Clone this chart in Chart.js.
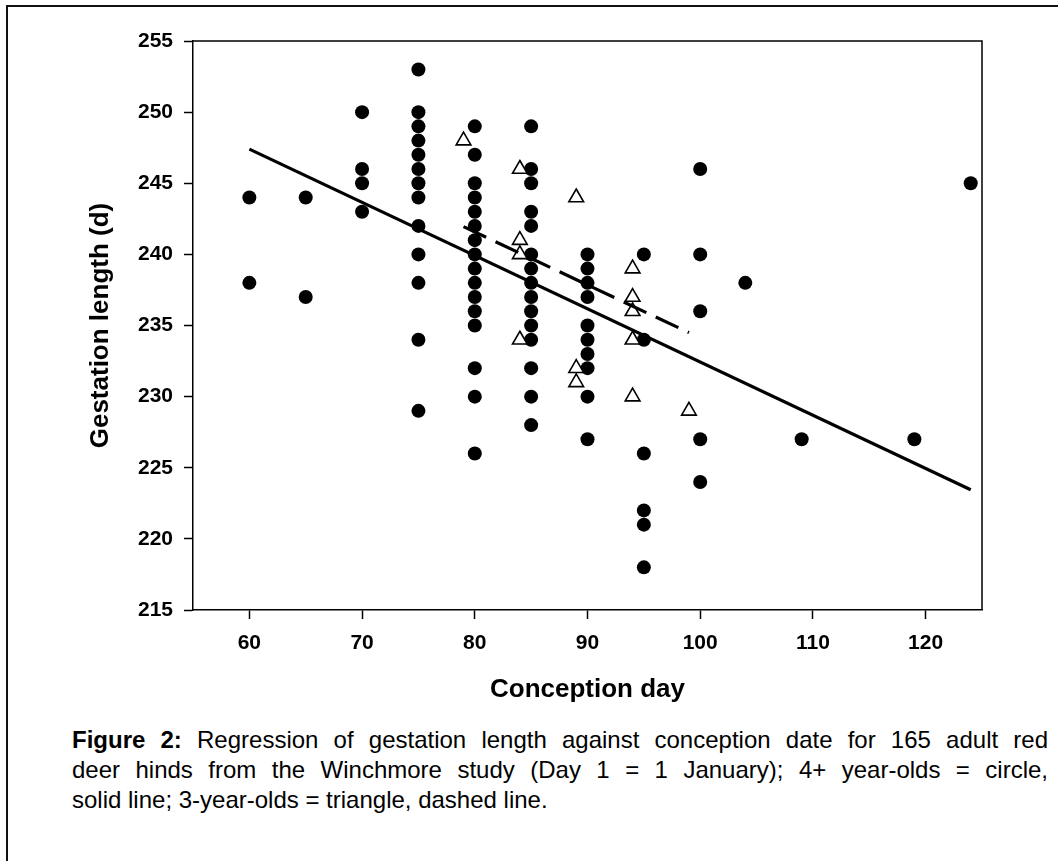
<!DOCTYPE html>
<html lang="en">
<head>
<meta charset="UTF-8">
<title>Figure 2 - Gestation length against conception day</title>
<script src="https://cdn.jsdelivr.net/npm/chart.js@4.4.0/dist/chart.umd.min.js"></script>
<style>
  html, body { margin: 0; padding: 0; background: #fff; }
  body { width: 1058px; height: 861px; position: relative; overflow: hidden;
         font-family: "Liberation Sans", Arial, sans-serif; }
  .frame { position: absolute; left: 6px; top: 5px; right: 0; bottom: 0;
           border-left: 2px solid #111; border-top: 2px solid #111; }
  #chart { position: absolute; left: 0; top: 0; }
  .caption { position: absolute; left: 72px; top: 725px; width: 976px;
             font-size: 24px; line-height: 30px; color: #000; }
  .caption .j { text-align: justify; text-align-last: justify; }
</style>
</head>
<body>
<div class="frame"></div>
<canvas id="chart" width="1058" height="720"></canvas>
<div class="caption">
  <div class="j"><b>Figure 2:</b> Regression of gestation length against conception date for 165 adult red</div>
  <div class="j">deer hinds from the Winchmore study (Day 1 = 1 January); 4+ year-olds = circle,</div>
  <div>solid line; 3-year-olds = triangle, dashed line.</div>
</div>

<script>
// 4+ year-olds (filled circles)
const adultDay = [
  60, 60,
  65, 65,
  70, 70, 70, 70,
  75, 75, 75, 75, 75, 75, 75, 75, 75, 75, 75, 75, 75,
  80, 80, 80, 80, 80, 80, 80, 80, 80, 80, 80, 80, 80, 80, 80, 80,
  85, 85, 85, 85, 85, 85, 85, 85, 85, 85, 85, 85, 85, 85, 85,
  90, 90, 90, 90, 90, 90, 90, 90, 90, 90,
  95, 95, 95, 95, 95, 95,
  100, 100, 100, 100, 100,
  104, 109, 119, 124
];
const adultGestation = [
  244, 238,
  244, 237,
  250, 246, 245, 243,
  253, 250, 249, 248, 247, 246, 245, 244, 242, 240, 238, 234, 229,
  249, 247, 245, 244, 243, 242, 241, 240, 239, 238, 237, 236, 235, 232, 230, 226,
  249, 246, 245, 243, 242, 240, 239, 238, 237, 236, 235, 234, 232, 230, 228,
  240, 239, 238, 237, 235, 234, 233, 232, 230, 227,
  240, 234, 226, 222, 221, 218,
  246, 240, 236, 227, 224,
  238, 227, 227, 245
];

// 3-year-olds (open triangles)
const youngDay = [79, 84, 84, 84, 84, 89, 89, 89, 94, 94, 94, 94, 94, 99];
const youngGestation = [248, 246, 241, 240, 234, 244, 232, 231, 239, 237, 236, 234, 230, 229];

// regression lines (end points)
const adultFitDay = [60, 124];
const adultFitGestation = [247.4, 223.45];
const youngFitDay = [79, 99];
const youngFitGestation = [241.95, 234.5];

const xTickValues = [60, 70, 80, 90, 100, 110, 120];
const yTickValues = [215, 220, 225, 230, 235, 240, 245, 250, 255];

const toPoints = (xs, ys) => xs.map((x, i) => ({ x: x, y: ys[i] }));

const FONT = "'Liberation Sans', Arial, sans-serif";

// top and right sides of the plot box
const plotFrame = {
  id: 'plotFrame',
  beforeDatasetsDraw(chart) {
    const { ctx, chartArea: a } = chart;
    ctx.save();
    ctx.strokeStyle = '#000';
    ctx.lineWidth = 1.5;
    ctx.beginPath();
    ctx.moveTo(a.left, a.top);
    ctx.lineTo(a.right, a.top);
    ctx.lineTo(a.right, a.bottom);
    ctx.stroke();
    ctx.restore();
  }
};

new Chart(document.getElementById('chart'), {
  type: 'scatter',
  data: {
    datasets: [
      {
        label: '4+ year-olds fit',
        data: toPoints(adultFitDay, adultFitGestation),
        showLine: true,
        borderColor: '#000',
        borderWidth: 3.2,
        pointRadius: 0,
        order: 0
      },
      {
        label: '3-year-olds fit',
        data: toPoints(youngFitDay, youngFitGestation),
        showLine: true,
        borderColor: '#000',
        borderWidth: 3.2,
        borderDash: [25, 10.4],
        borderCapStyle: 'butt',
        pointRadius: 0,
        order: 0
      },
      {
        label: '3-year-olds',
        data: toPoints(youngDay, youngGestation),
        pointStyle: 'triangle',
        pointRadius: 8.5,
        backgroundColor: '#fff',
        borderColor: '#000',
        borderWidth: 1.6,
        order: 1
      },
      {
        label: '4+ year-olds',
        data: toPoints(adultDay, adultGestation),
        pointStyle: 'circle',
        pointRadius: 7,
        backgroundColor: '#000',
        borderWidth: 0,
        order: 2
      }
    ]
  },
  options: {
    responsive: false,
    animation: false,
    devicePixelRatio: 1,
    layout: { padding: { left: 0, right: 76, top: 41, bottom: 10 } },
    plugins: { legend: { display: false }, tooltip: { enabled: false } },
    scales: {
      x: {
        type: 'linear',
        min: 55,
        max: 125,
        afterFit: s => { s.height = 100; },
        afterBuildTicks: s => { s.ticks = xTickValues.map(v => ({ value: v })); },
        grid: { drawOnChartArea: false, drawTicks: true, tickLength: 9, tickColor: '#000', tickWidth: 1.5 },
        border: { display: true, color: '#000', width: 1.5 },
        ticks: { padding: 12, color: '#000', maxRotation: 0, font: { family: FONT, size: 21, weight: 'bold' } },
        title: {
          display: true,
          text: 'Conception day',
          color: '#000',
          padding: { top: 0, bottom: 5 },
          font: { family: FONT, size: 26, weight: 'bold' }
        }
      },
      y: {
        type: 'linear',
        min: 215,
        max: 255,
        afterFit: s => { s.width = 193; },
        afterBuildTicks: s => { s.ticks = yTickValues.map(v => ({ value: v })); },
        grid: { drawOnChartArea: false, drawTicks: true, tickLength: 9, tickColor: '#000', tickWidth: 1.5 },
        border: { display: true, color: '#000', width: 1.5 },
        ticks: { padding: 11, color: '#000', font: { family: FONT, size: 21, weight: 'bold' } },
        title: {
          display: true,
          text: 'Gestation length (d)',
          color: '#000',
          padding: { top: 85, bottom: 0 },
          font: { family: FONT, size: 26, weight: 'bold' }
        }
      }
    }
  },
  plugins: [plotFrame]
});
</script>
</body>
</html>
